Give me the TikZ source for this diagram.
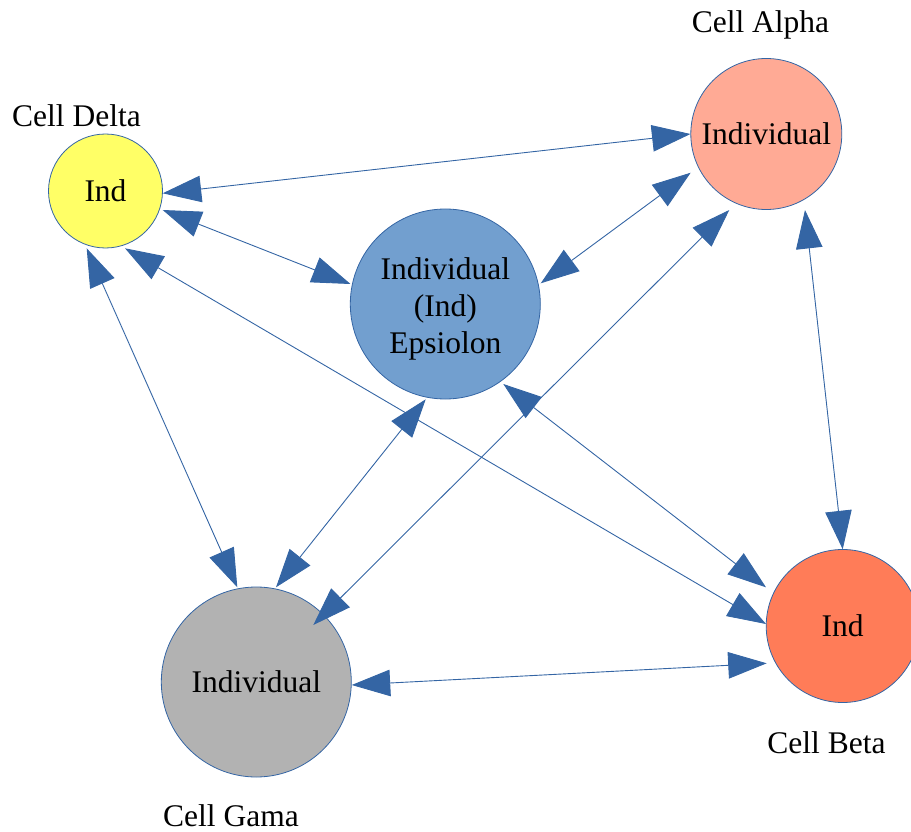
\documentclass[tikz,border=0pt]{standalone}
\usepackage{fontspec}
\setmainfont{Liberation Serif}
\usetikzlibrary{arrows.meta,calc}
\definecolor{edgeC}{HTML}{3465A4}
\definecolor{deltaC}{HTML}{FFFF66}
\definecolor{alphaC}{HTML}{FFAA95}
\definecolor{betaC}{HTML}{FF7C58}
\definecolor{epsC}{HTML}{729FCF}
\definecolor{gamaC}{HTML}{B2B2B2}
\tikzset{
  txt/.style={font=\fontsize{31.5pt}{37pt}\selectfont, text=black, inner sep=0pt},
  cell/.style={txt, circle, draw=edgeC, line width=0.8pt, align=center},
  link/.style={draw=edgeC, line width=0.9pt, {Triangle[length=38.5pt,width=26.5pt]}-{Triangle[length=38.5pt,width=26.5pt]}}
}
\begin{document}
\begin{tikzpicture}[x=1pt,y=-1pt]
\useasboundingbox (0,0) rectangle (911,832);
\node[cell, fill=deltaC, minimum size=114pt] (delta) at (105.5,191) {Ind};
\node[cell, fill=alphaC, minimum size=151pt] (alpha) at (766.3,134) {Individual};
\node[cell, fill=betaC, minimum size=153pt] (beta) at (842.7,626) {Ind};
\node[cell, fill=epsC, minimum size=190pt] (eps) at (445.3,304) {};
\node[txt, align=center] (epstext) at ($(eps)+(0,4.5)$) {Individual\\(Ind)\\Epsiolon};
\node[cell, fill=gamaC, minimum size=190pt] (gama) at (256.3,682) {Individual};

\node[txt] (ldelta) at (76.5,116) {Cell Delta};
\node[txt] (lalpha) at (760.5,25) {Cell Alpha};
\node[txt] (lbeta) at (826.5,743) {Cell Beta};
\node[txt] (lgama) at (231,815.5) {Cell Gama};

\draw[link] ($(delta)+(57.2,2.3)$) -- ($(alpha)+(-75.8,0)$);
\draw[link] ($(delta)+(57.2,19)$) -- ($(eps)+(-94.8,-20)$);
\draw[link] ($(delta)+(-18.8,57.3)$) -- ($(gama)+(-19,-94.7)$);
\draw[link] ($(delta)+(19.5,57.3)$) -- ($(beta)+(-76.7,-2)$);
\draw[link] ($(eps)+(95.4,-20.7)$) -- ($(alpha)+(-75.6,38.7)$);
\draw[link] ($(eps)+(-19.6,95.3)$) -- ($(gama)+(19.7,-94.7)$);
\draw[link] ($(eps)+(58,80)$) -- ($(beta)+(-76.7,-38.7)$);
\draw[link] ($(alpha)+(-37,76)$) -- ($(gama)+(57,-57)$);
\draw[link] ($(alpha)+(38.7,76)$) -- ($(beta)+(0,-76.7)$);
\draw[link] ($(gama)+(95.4,3)$) -- ($(beta)+(-76,37.3)$);
\end{tikzpicture}
\end{document}
